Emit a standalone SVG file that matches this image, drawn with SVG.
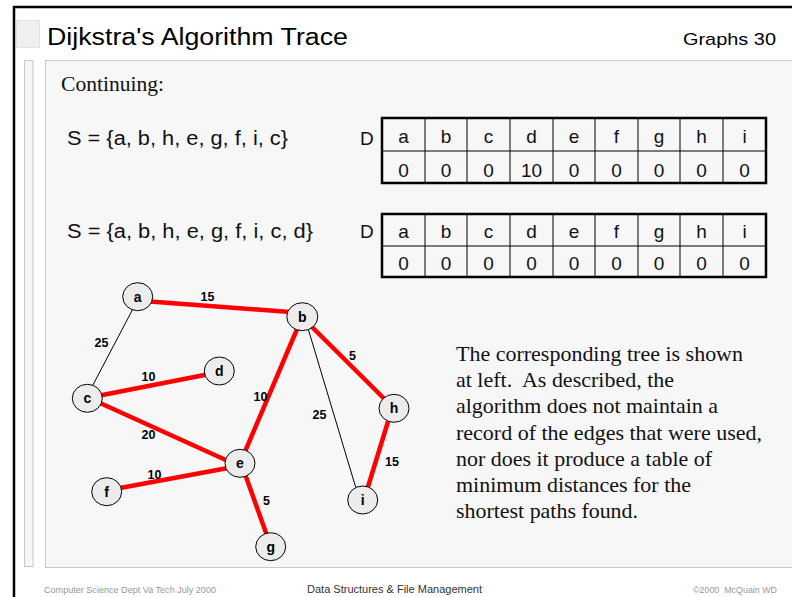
<svg xmlns="http://www.w3.org/2000/svg" width="792" height="597" viewBox="0 0 792 597">
<style>
.sans{font-family:"Liberation Sans",Arial,sans-serif}
.serif{font-family:"Liberation Serif","Times New Roman",serif;font-size:22px;fill:#111}
.cell{font-family:"Liberation Sans",Arial,sans-serif;font-size:19px;text-anchor:middle;fill:#111}
.tree{stroke:#f00;stroke-width:4.5;fill:none}
.thin{stroke:#000;stroke-width:1;fill:none}
.node ellipse{fill:#ececec;stroke:#000;stroke-width:1}
.node text{font-family:"Liberation Sans",Arial,sans-serif;font-size:14px;font-weight:bold;text-anchor:middle;fill:#000}
.w{font-family:"Liberation Sans",Arial,sans-serif;font-size:12.5px;font-weight:bold;text-anchor:middle;fill:#000}
.grid{stroke:#000;stroke-width:1}
.outer{fill:none;stroke:#000;stroke-width:2.5}
</style>
<rect x="0" y="0" width="792" height="597" fill="#fff"/>
<!-- frame -->
<line x1="14" y1="6" x2="14" y2="597" stroke="#000" stroke-width="2.5"/>
<line x1="13" y1="7" x2="792" y2="7" stroke="#000" stroke-width="2.5"/>
<rect x="16.5" y="20.5" width="23" height="27" fill="#efefef" stroke="#e2e2e2" stroke-width="1"/>
<rect x="24.5" y="60.5" width="8.5" height="506" fill="#f6f6f6" stroke="#c8c8c8" stroke-width="1"/>
<rect x="45.5" y="60.5" width="750" height="507" fill="#f7f7f7" stroke="#c8c8c8" stroke-width="1"/>
<!-- header -->
<text class="sans" x="47" y="44.5" font-size="23" textLength="301" lengthAdjust="spacingAndGlyphs" fill="#000">Dijkstra's Algorithm Trace</text>
<text class="sans" x="683" y="45" font-size="17" textLength="93" lengthAdjust="spacingAndGlyphs" fill="#000">Graphs 30</text>
<text class="serif" x="61" y="91" textLength="103" lengthAdjust="spacingAndGlyphs">Continuing:</text>
<!-- S sets -->
<text class="sans" x="67" y="145" font-size="20" textLength="221" lengthAdjust="spacingAndGlyphs" fill="#111">S = {a, b, h, e, g, f, i, c}</text>
<text class="sans" x="67" y="238" font-size="20" textLength="246" lengthAdjust="spacingAndGlyphs" fill="#111">S = {a, b, h, e, g, f, i, c, d}</text>
<!-- table 1 -->
<g id="table1">
<text class="sans" x="360" y="145" font-size="19" fill="#111">D</text>
<g class="grid">
<line x1="382" y1="151" x2="766" y2="151"/>
<line x1="425" y1="118" x2="425" y2="183"/><line x1="467" y1="118" x2="467" y2="183"/><line x1="510" y1="118" x2="510" y2="183"/><line x1="553" y1="118" x2="553" y2="183"/><line x1="595" y1="118" x2="595" y2="183"/><line x1="638" y1="118" x2="638" y2="183"/><line x1="680" y1="118" x2="680" y2="183"/><line x1="723" y1="118" x2="723" y2="183"/>
</g>
<rect class="outer" x="382" y="118" width="384" height="65"/>
<text class="cell" x="403.5" y="143">a</text><text class="cell" x="446" y="143">b</text><text class="cell" x="488.5" y="143">c</text><text class="cell" x="531.5" y="143">d</text><text class="cell" x="574" y="143">e</text><text class="cell" x="616.5" y="143">f</text><text class="cell" x="659" y="143">g</text><text class="cell" x="701.5" y="143">h</text><text class="cell" x="744.5" y="143">i</text>
<text class="cell" x="403.5" y="176.5">0</text><text class="cell" x="446" y="176.5">0</text><text class="cell" x="488.5" y="176.5">0</text><text class="cell" x="531.5" y="176.5">10</text><text class="cell" x="574" y="176.5">0</text><text class="cell" x="616.5" y="176.5">0</text><text class="cell" x="659" y="176.5">0</text><text class="cell" x="701.5" y="176.5">0</text><text class="cell" x="744.5" y="176.5">0</text>
</g>
<!-- table 2 -->
<g id="table2">
<text class="sans" x="360" y="238" font-size="19" fill="#111">D</text>
<g class="grid">
<line x1="382" y1="246" x2="766" y2="246"/>
<line x1="425" y1="214" x2="425" y2="277"/><line x1="467" y1="214" x2="467" y2="277"/><line x1="510" y1="214" x2="510" y2="277"/><line x1="553" y1="214" x2="553" y2="277"/><line x1="595" y1="214" x2="595" y2="277"/><line x1="638" y1="214" x2="638" y2="277"/><line x1="680" y1="214" x2="680" y2="277"/><line x1="723" y1="214" x2="723" y2="277"/>
</g>
<rect class="outer" x="382" y="214" width="384" height="63"/>
<text class="cell" x="403.5" y="237.5">a</text><text class="cell" x="446" y="237.5">b</text><text class="cell" x="488.5" y="237.5">c</text><text class="cell" x="531.5" y="237.5">d</text><text class="cell" x="574" y="237.5">e</text><text class="cell" x="616.5" y="237.5">f</text><text class="cell" x="659" y="237.5">g</text><text class="cell" x="701.5" y="237.5">h</text><text class="cell" x="744.5" y="237.5">i</text>
<text class="cell" x="403.5" y="269.5">0</text><text class="cell" x="446" y="269.5">0</text><text class="cell" x="488.5" y="269.5">0</text><text class="cell" x="531.5" y="269.5">0</text><text class="cell" x="574" y="269.5">0</text><text class="cell" x="616.5" y="269.5">0</text><text class="cell" x="659" y="269.5">0</text><text class="cell" x="701.5" y="269.5">0</text><text class="cell" x="744.5" y="269.5">0</text>
</g>
<!-- connectors -->
<g id="edges">
<line class="tree" x1="150" y1="301.5" x2="290" y2="312"/>
<line class="thin" x1="132.7" y1="309.3" x2="91.7" y2="387.3"/>
<line class="tree" x1="100" y1="395.5" x2="207" y2="374.5"/>
<line class="tree" x1="100" y1="403" x2="228" y2="461"/>
<line class="tree" x1="297.5" y1="328" x2="244" y2="454"/>
<line class="thin" x1="308.3" y1="329.3" x2="356" y2="488.3"/>
<line class="tree" x1="309" y1="324" x2="385" y2="399.5"/>
<line class="tree" x1="388.5" y1="420" x2="367" y2="490"/>
<line class="tree" x1="228" y1="468" x2="120" y2="488"/>
<line class="tree" x1="245" y1="474" x2="267.5" y2="537"/>
<text class="w" x="207.5" y="301">15</text>
<text class="w" x="101.5" y="347">25</text>
<text class="w" x="148.5" y="380.5">10</text>
<text class="w" x="148.5" y="439">20</text>
<text class="w" x="260.5" y="400.5">10</text>
<text class="w" x="319.5" y="419">25</text>
<text class="w" x="352.5" y="360">5</text>
<text class="w" x="392" y="466">15</text>
<text class="w" x="154.5" y="478.5">10</text>
<text class="w" x="266.5" y="504.5">5</text>
</g>
<!-- nodes -->
<g id="node-a" class="node"><ellipse cx="137.7" cy="296.7" rx="15" ry="14"/><text x="137.7" y="301.5">a</text></g>
<g id="node-b" class="node"><ellipse cx="302.3" cy="316.7" rx="15.5" ry="14"/><text x="302.3" y="321.5">b</text></g>
<g id="node-c" class="node"><ellipse cx="87.3" cy="398.3" rx="15" ry="14"/><text x="87.3" y="403">c</text></g>
<g id="node-d" class="node"><ellipse cx="219.3" cy="371" rx="15" ry="14"/><text x="219.3" y="376">d</text></g>
<g id="node-e" class="node"><ellipse cx="240" cy="463.3" rx="15" ry="14"/><text x="240" y="468">e</text></g>
<g id="node-f" class="node"><ellipse cx="106.7" cy="491.7" rx="15" ry="14"/><text x="106.7" y="496.5">f</text></g>
<g id="node-g" class="node"><ellipse cx="270.7" cy="546.7" rx="15" ry="14"/><text x="270.7" y="551.5">g</text></g>
<g id="node-h" class="node"><ellipse cx="394" cy="408.3" rx="15" ry="14"/><text x="394" y="413">h</text></g>
<g id="node-i" class="node"><ellipse cx="362.7" cy="500" rx="15" ry="14"/><text x="362.7" y="505">i</text></g>
<!-- paragraph -->
<text class="serif" x="456" y="361" textLength="287" lengthAdjust="spacingAndGlyphs">The corresponding tree is shown</text>
<text class="serif" x="456" y="387.2" xml:space="preserve" textLength="218" lengthAdjust="spacingAndGlyphs">at left.  As described, the</text>
<text class="serif" x="456" y="413.4" textLength="262" lengthAdjust="spacingAndGlyphs">algorithm does not maintain a</text>
<text class="serif" x="456" y="439.6" textLength="306" lengthAdjust="spacingAndGlyphs">record of the edges that were used,</text>
<text class="serif" x="456" y="465.8" textLength="256" lengthAdjust="spacingAndGlyphs">nor does it produce a table of</text>
<text class="serif" x="456" y="492" textLength="235" lengthAdjust="spacingAndGlyphs">minimum distances for the</text>
<text class="serif" x="456" y="518.2" textLength="182" lengthAdjust="spacingAndGlyphs">shortest paths found.</text>
<!-- footer -->
<text class="sans" x="44" y="593" font-size="9.5" fill="#999" textLength="172" lengthAdjust="spacingAndGlyphs">Computer Science Dept Va Tech July 2000</text>
<text class="sans" x="307" y="593" font-size="10.5" fill="#333" textLength="175" lengthAdjust="spacingAndGlyphs">Data Structures &amp; File Management</text>
<text class="sans" x="693" y="593" font-size="9.5" fill="#999" xml:space="preserve" textLength="84" lengthAdjust="spacingAndGlyphs">©2000  McQuain WD</text>
</svg>
